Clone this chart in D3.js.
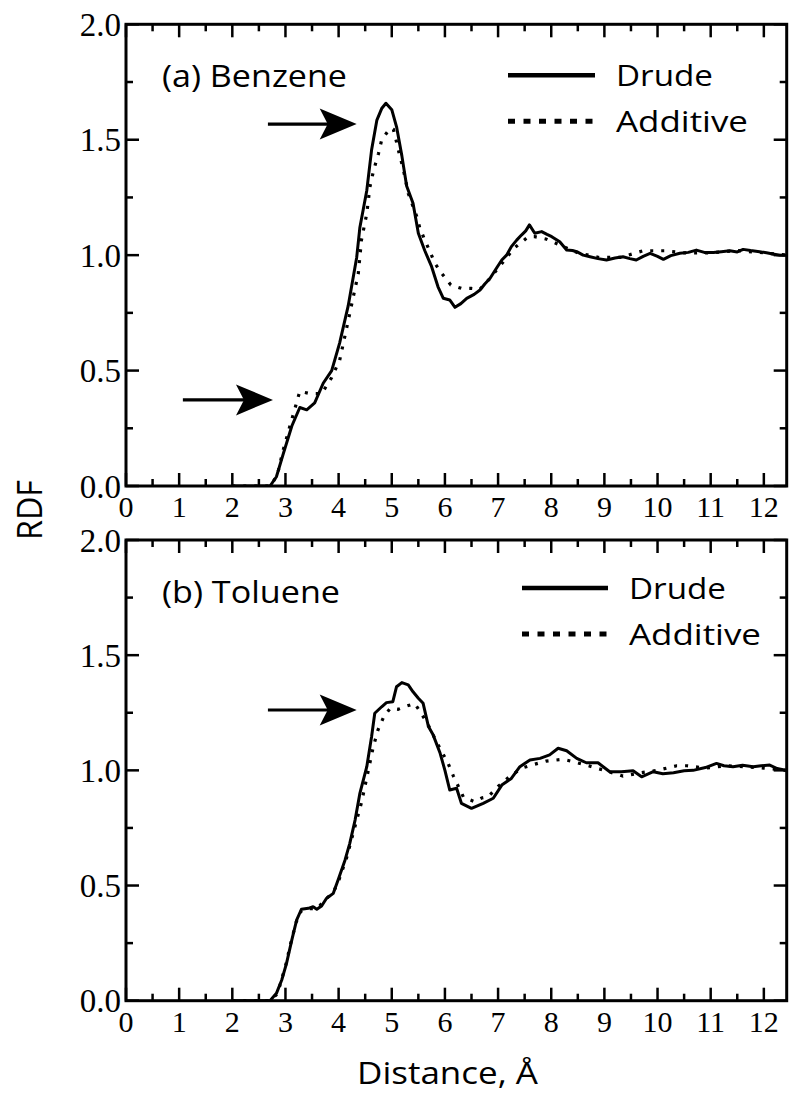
<!DOCTYPE html>
<html><head><meta charset="utf-8">
<script src="https://cdn.jsdelivr.net/npm/d3@7"></script>
<style>body{margin:0;background:#fff}</style>
</head><body>
<svg id="chart" width="800" height="1100"></svg>
<script>
// ---- Data ----
const xTicks = [0,1,2,3,4,5,6,7,8,9,10,11,12];
const yTicks = [0.0,0.5,1.0,1.5,2.0];
const seriesNames = ["Drude","Additive"];
const panelLabels = ["(a) Benzene","(b) Toluene"];

const benzeneDrude = [[2.0,0],[2.71,0],[2.83,0.04],[2.96,0.14],[3.12,0.26],[3.27,0.34],[3.40,0.33],[3.55,0.36],[3.71,0.445],[3.87,0.50],[4.02,0.62],[4.18,0.78],[4.34,0.99],[4.40,1.12],[4.53,1.28],[4.62,1.455],[4.72,1.585],[4.81,1.635],[4.89,1.658],[5.00,1.63],[5.09,1.556],[5.19,1.43],[5.28,1.30],[5.40,1.225],[5.50,1.095],[5.62,1.02],[5.75,0.95],[5.87,0.863],[5.97,0.813],[6.09,0.806],[6.19,0.774],[6.30,0.79],[6.41,0.813],[6.55,0.83],[6.66,0.849],[6.75,0.875],[6.85,0.90],[6.96,0.94],[7.07,0.979],[7.16,1.0],[7.25,1.037],[7.35,1.065],[7.44,1.087],[7.52,1.105],[7.59,1.131],[7.69,1.095],[7.82,1.102],[7.92,1.09],[8.01,1.08],[8.16,1.058],[8.29,1.022],[8.40,1.02],[8.48,1.015],[8.60,1.0],[8.73,0.993],[8.88,0.985],[9.04,0.979],[9.20,0.988],[9.35,0.993],[9.48,0.985],[9.60,0.979],[9.73,0.995],[9.86,1.008],[10.0,0.995],[10.11,0.982],[10.25,0.998],[10.42,1.008],[10.58,1.012],[10.73,1.022],[10.88,1.012],[11.05,1.011],[11.20,1.015],[11.36,1.019],[11.50,1.014],[11.61,1.025],[11.75,1.02],[11.92,1.015],[12.05,1.01],[12.17,1.005],[12.30,1.0],[12.43,1.0]];
const benzeneAdditive = [[2.0,0],[2.72,0],[2.85,0.05],[2.95,0.15],[3.02,0.207],[3.08,0.257],[3.18,0.337],[3.27,0.41],[3.46,0.40],[3.68,0.40],[3.87,0.47],[4.02,0.545],[4.15,0.683],[4.27,0.813],[4.37,0.92],[4.43,1.066],[4.53,1.18],[4.59,1.297],[4.66,1.369],[4.75,1.44],[4.81,1.499],[4.90,1.528],[4.97,1.55],[5.03,1.545],[5.09,1.49],[5.14,1.44],[5.22,1.369],[5.31,1.268],[5.47,1.167],[5.53,1.116],[5.62,1.066],[5.72,1.015],[5.81,0.965],[5.94,0.921],[6.11,0.871],[6.31,0.856],[6.50,0.856],[6.66,0.852],[6.85,0.90],[7.10,0.972],[7.30,1.03],[7.57,1.08],[7.69,1.08],[7.90,1.07],[8.20,1.04],[8.50,1.01],[8.90,0.99],[9.30,0.99],[9.73,1.019],[10.14,1.019],[10.50,1.01],[11.0,1.01],[11.5,1.02],[12.0,1.01],[12.43,1.0]];
const tolueneDrude = [[2.0,0],[2.71,0],[2.83,0.032],[2.93,0.09],[3.02,0.162],[3.12,0.264],[3.21,0.35],[3.30,0.397],[3.43,0.401],[3.52,0.408],[3.59,0.397],[3.68,0.411],[3.77,0.444],[3.90,0.466],[3.99,0.524],[4.12,0.61],[4.21,0.683],[4.31,0.784],[4.40,0.90],[4.53,1.016],[4.62,1.146],[4.68,1.248],[4.81,1.276],[4.90,1.294],[5.02,1.298],[5.09,1.363],[5.19,1.381],[5.31,1.371],[5.40,1.341],[5.50,1.313],[5.59,1.291],[5.69,1.19],[5.78,1.153],[5.91,1.074],[6.00,1.0],[6.09,0.915],[6.22,0.922],[6.31,0.857],[6.50,0.835],[6.72,0.857],[6.91,0.879],[7.07,0.936],[7.25,0.965],[7.41,1.016],[7.60,1.045],[7.79,1.052],[7.97,1.067],[8.13,1.096],[8.29,1.085],[8.48,1.052],[8.66,1.033],[8.88,1.033],[9.10,0.994],[9.32,0.994],[9.54,0.998],[9.70,0.972],[9.92,0.994],[10.10,0.985],[10.30,0.99],[10.50,0.998],[10.67,1.0],[10.90,1.012],[11.11,1.03],[11.25,1.02],[11.42,1.016],[11.60,1.022],[11.80,1.016],[11.95,1.02],[12.11,1.023],[12.25,1.008],[12.43,1.0]];
const tolueneAdditive = [[2.0,0],[2.70,0],[2.85,0.03],[3.00,0.15],[3.10,0.25],[3.20,0.34],[3.30,0.39],[3.45,0.40],[3.60,0.40],[3.75,0.44],[3.90,0.47],[4.00,0.52],[4.15,0.62],[4.30,0.75],[4.43,0.86],[4.55,0.99],[4.65,1.10],[4.74,1.175],[4.85,1.233],[4.97,1.269],[5.12,1.265],[5.28,1.279],[5.43,1.29],[5.55,1.25],[5.70,1.19],[5.85,1.12],[6.06,1.03],[6.16,0.975],[6.35,0.883],[6.56,0.864],[6.69,0.88],[6.81,0.885],[7.0,0.93],[7.2,0.97],[7.44,1.009],[7.63,1.023],[7.9,1.04],[8.22,1.048],[8.41,1.038],[8.7,1.02],[9.0,1.0],[9.35,0.975],[9.7,0.99],[10.0,1.0],[10.36,1.02],[10.55,1.02],[10.9,1.01],[11.3,1.02],[11.7,1.015],[12.0,1.01],[12.43,1.0]];

// arrows: [tailX, tipX, y] in data units
const benzeneArrows = [[2.67,4.34,1.568],[1.07,2.765,0.373]];
const tolueneArrows = [[2.67,4.34,1.262]];

const panels = [
  {label: panelLabels[0], drude: benzeneDrude, additive: benzeneAdditive, arrows: benzeneArrows, top: 24.3, height: 461.7},
  {label: panelLabels[1], drude: tolueneDrude, additive: tolueneAdditive, arrows: tolueneArrows, top: 540, height: 460.7}
];

const svg = d3.select("#chart");
const left = 126, right = 786.7;
const x = d3.scaleLinear().domain([0, 12.43]).range([left, right]);
const sans = "'Open Sans', 'DejaVu Sans', sans-serif";
const serif = "'Liberation Serif', 'Times New Roman', serif";

panels.forEach((p, i) => {
  const y = d3.scaleLinear().domain([0, 2]).range([p.top + p.height, p.top]);
  const g = svg.append("g");
  const bottom = p.top + p.height;
  const xMinor = d3.range(0.5, 12.43, 1);
  const yMinor = [0.25, 0.75, 1.25, 1.75];

  // ticks (inward) on all four sides
  const tk = g.append("g").attr("stroke", "#000").attr("stroke-width", 2.5);
  xTicks.forEach(v => {
    tk.append("line").attr("x1", x(v)).attr("x2", x(v)).attr("y1", bottom).attr("y2", bottom - 13);
    tk.append("line").attr("x1", x(v)).attr("x2", x(v)).attr("y1", p.top).attr("y2", p.top + 13);
  });
  xMinor.forEach(v => {
    tk.append("line").attr("x1", x(v)).attr("x2", x(v)).attr("y1", bottom).attr("y2", bottom - 7);
    tk.append("line").attr("x1", x(v)).attr("x2", x(v)).attr("y1", p.top).attr("y2", p.top + 7);
  });
  yTicks.forEach(v => {
    tk.append("line").attr("x1", left).attr("x2", left + 13).attr("y1", y(v)).attr("y2", y(v));
    tk.append("line").attr("x1", right).attr("x2", right - 13).attr("y1", y(v)).attr("y2", y(v));
  });
  yMinor.forEach(v => {
    tk.append("line").attr("x1", left).attr("x2", left + 7).attr("y1", y(v)).attr("y2", y(v));
    tk.append("line").attr("x1", right).attr("x2", right - 7).attr("y1", y(v)).attr("y2", y(v));
  });

  // tick labels
  g.append("g").selectAll("text").data(xTicks).join("text")
    .attr("x", d => x(d)).attr("y", bottom + 31)
    .attr("text-anchor", "middle").attr("font-family", serif).attr("font-size", 30)
    .text(d => d);
  g.append("g").selectAll("text").data(yTicks).join("text")
    .attr("x", left - 5).attr("y", d => y(d) + 11.5)
    .attr("text-anchor", "end").attr("font-family", serif).attr("font-size", 33)
    .text(d => d.toFixed(1));

  // curves
  const clipId = "clip" + i;
  svg.append("clipPath").attr("id", clipId).append("rect")
    .attr("x", left).attr("y", p.top - 5).attr("width", right - left).attr("height", p.height + 5);
  const line = d3.line().x(d => x(d[0])).y(d => y(d[1]));
  g.append("path").datum(p.additive).attr("d", line).attr("clip-path", `url(#${clipId})`)
    .attr("fill", "none").attr("stroke", "#000").attr("stroke-width", 3.2)
    .attr("stroke-dasharray", "3,8");
  g.append("path").datum(p.drude).attr("d", line).attr("clip-path", `url(#${clipId})`)
    .attr("fill", "none").attr("stroke", "#000").attr("stroke-width", 3)
    .attr("stroke-linejoin", "round");

  // frame
  g.append("rect").attr("x", left).attr("y", p.top).attr("width", right - left).attr("height", p.height)
    .attr("fill", "none").attr("stroke", "#000").attr("stroke-width", 3);

  // arrows
  p.arrows.forEach(a => {
    const x0 = x(a[0]), x1 = x(a[1]), yy = y(a[2]);
    g.append("line").attr("x1", x0).attr("x2", x1 - 25).attr("y1", yy).attr("y2", yy)
      .attr("stroke", "#000").attr("stroke-width", 3.2);
    g.append("path")
      .attr("d", `M${x1},${yy} L${x1 - 37},${yy - 15.5} L${x1 - 29},${yy} L${x1 - 37},${yy + 15.5} Z`)
      .attr("fill", "#000");
  });

  // panel label
  g.append("text").attr("x", 162).attr("y", p.top + 63)
    .attr("font-family", sans).attr("font-size", 31)
    .attr("textLength", i === 0 ? 185 : 178).attr("lengthAdjust", "spacingAndGlyphs")
    .text(p.label);

  // legend
  const lx0 = i === 0 ? 508 : 522, lx1 = i === 0 ? 595 : 608, tx = i === 0 ? 616 : 629;
  const ly = p.top + (i === 0 ? 51 : 48);
  g.append("line").attr("x1", lx0).attr("x2", lx1).attr("y1", ly).attr("y2", ly)
    .attr("stroke", "#000").attr("stroke-width", 4.5);
  g.append("line").attr("x1", lx0).attr("x2", lx1).attr("y1", ly + 46).attr("y2", ly + 46)
    .attr("stroke", "#000").attr("stroke-width", 5).attr("stroke-dasharray", "7,8.5");
  g.append("text").attr("x", tx).attr("y", ly + 11).attr("font-family", sans).attr("font-size", 30)
    .attr("textLength", 97).attr("lengthAdjust", "spacingAndGlyphs").text(seriesNames[0]);
  g.append("text").attr("x", tx).attr("y", ly + 57).attr("font-family", sans).attr("font-size", 30)
    .attr("textLength", 132).attr("lengthAdjust", "spacingAndGlyphs").text(seriesNames[1]);
});

// axis titles
svg.append("text").attr("transform", "translate(42,510) rotate(-90)")
  .attr("text-anchor", "middle").attr("font-family", sans).attr("font-size", 34)
  .attr("textLength", 60).attr("lengthAdjust", "spacingAndGlyphs").text("RDF");
svg.append("text").attr("x", 357).attr("y", 1084)
  .attr("font-family", sans).attr("font-size", 31)
  .attr("textLength", 181).attr("lengthAdjust", "spacingAndGlyphs").text("Distance, Å");
</script>
</body></html>
